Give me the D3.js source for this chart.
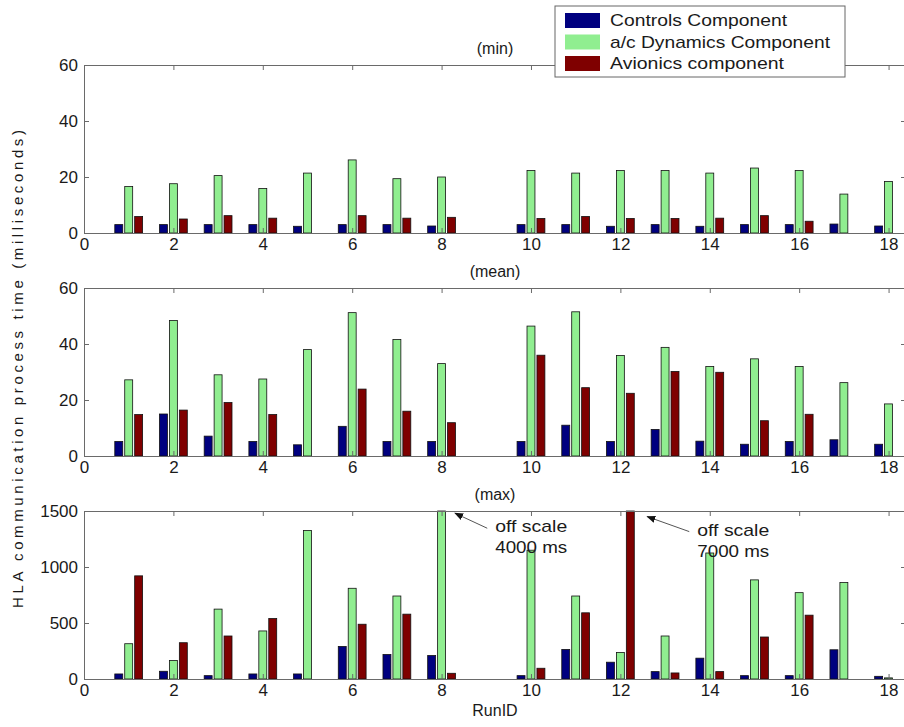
<!DOCTYPE html>
<html>
<head>
<meta charset="utf-8">
<script src="https://cdn.jsdelivr.net/npm/d3@7"></script>
<style>
  body { margin: 0; background: #fff; }
  svg text { font-family: "Liberation Sans", Arial, sans-serif; fill: #1a1a1a; }
  .axis path, .axis line { stroke: #6a6a6a; }
  .axis text { font-size: 17px; fill: #1a1a1a; }
  .bar { stroke: #111; stroke-width: 0.8; }
</style>
</head>
<body>
<svg id="chart"></svg>
<script>

// runs on the x axis (run 9 has no data)
const runIds = [1, 2, 3, 4, 5, 6, 7, 8, 9, 10, 11, 12, 13, 14, 15, 16, 17, 18];
const seriesNames = ['Controls Component', 'a/c Dynamics Component', 'Avionics component'];
const seriesColors = ['#00007f', '#90ee90', '#7f0000'];

const xTicks = [0, 2, 4, 6, 8, 10, 12, 14, 16, 18];
const msTicks = [0, 20, 40, 60];
const maxTicks = [0, 500, 1000, 1500];

// (min)
const minControls = [3, 3, 3, 3, 2.4, 3, 3, 2.5, null, 3, 3, 2.4, 3, 2.4, 3, 3, 3.2, 2.5];
const minDynamics = [16.6, 17.6, 20.5, 15.9, 21.4, 26.1, 19.4, 20, null, 22.3, 21.4, 22.3, 22.3, 21.4, 23.2, 22.3, 13.9, 18.4];
const minAvionics = [5.9, 5, 6.2, 5.3, 0, 6.2, 5.3, 5.6, null, 5.2, 5.9, 5.2, 5.2, 5.3, 6.2, 4.2, 0, 0];

// (mean)
const meanControls = [5.2, 15, 7.1, 5.2, 4, 10.6, 5.2, 5.2, null, 5.2, 11, 5.2, 9.5, 5.3, 4.2, 5.2, 5.8, 4.2];
const meanDynamics = [27.2, 48.4, 29, 27.5, 38, 51.2, 41.6, 33, null, 46.4, 51.5, 35.9, 38.8, 32, 34.7, 32, 26.2, 18.6];
const meanAvionics = [14.8, 16.4, 19.1, 14.8, 0, 23.9, 16, 11.9, null, 36, 24.4, 22.4, 30.2, 29.9, 12.6, 14.9, 0, 0];

// (max) -- run 8 dynamics and run 12 avionics are off scale
const maxControls = [45, 69, 30, 45, 45, 291, 219, 210, null, 30, 264, 150, 66, 186, 30, 30, 261, 24];
const maxDynamics = [315, 165, 624, 429, 1326, 810, 741, 4000, null, 1150, 741, 237, 384, 1125, 885, 771, 861, 10];
const maxAvionics = [921, 324, 384, 540, 0, 489, 579, 51, null, 96, 591, 7000, 54, 66, 375, 570, 0, 0];

// off scale notes: arrow tip and text start in data units, two text lines
const notesTipRun = [8.3, 12.6];
const notesTipValue = [1480, 1450];
const notesTextRun = [9.2, 13.72];
const notesLabel = [['off scale', '4000 ms'], ['off scale', '7000 ms']];

class BarPanel {

  constructor(_config, _series) {
    this.config = {
      parentElement: _config.parentElement,
      top: _config.top,
      left: 84,
      width: 822,
      height: 168,
      title: _config.title,
      yDomain: _config.yDomain,
      yTicks: _config.yTicks
    }
    this.series = _series;
    this.initVis();
  }

  initVis() {
    let vis = this;

    vis.xScale = d3.scaleLinear()
        .domain([0, 18.39])
        .range([0, vis.config.width]);

    // clamp so the off-scale bars stop at the top of the box
    vis.yScale = d3.scaleLinear()
        .domain(vis.config.yDomain)
        .range([vis.config.height, 0])
        .clamp(true);

    // offsets of the three bars inside a run group (in run units)
    vis.groupScale = d3.scaleBand()
        .domain(seriesNames)
        .range([-1 / 3, 1 / 3])
        .paddingInner(0.2)
        .paddingOuter(0.1);

    vis.chart = vis.config.parentElement.append('g')
        .attr('transform', `translate(${vis.config.left},${vis.config.top})`);

    vis.chart.append('text')
      .attr('x', vis.config.width / 2)
      .attr('y', -11)
      .style('text-anchor', 'middle')
      .style('font-size', '16px')
      .text(vis.config.title);

    vis.updateVis();
  }

  updateVis() {
    let vis = this;

    let rows = [];
    vis.series.forEach((values, si) => {
      values.forEach((v, i) => {
        if (v != null && v > 0) rows.push({ run: runIds[i], value: v, name: seriesNames[si], color: seriesColors[si] });
      });
    });

    let barW = vis.xScale(vis.groupScale.bandwidth()) - vis.xScale(0);

    vis.chart.selectAll('.bar')
      .data(rows)
      .join('rect')
        .attr('class', 'bar')
        .attr('x', d => vis.xScale(d.run + vis.groupScale(d.name)))
        .attr('y', d => vis.yScale(d.value))
        .attr('width', barW)
        .attr('height', d => vis.config.height - vis.yScale(d.value))
        .attr('fill', d => d.color);

    vis.renderVis();
  }

  renderVis() {
    let vis = this;
    let w = vis.config.width, h = vis.config.height;

    // MATLAB style box: ticks point inwards on all four sides
    vis.chart.append('g')
        .attr('class', 'axis x-axis')
        .attr('transform', `translate(0,${h})`)
        .call(d3.axisBottom(vis.xScale).tickValues(xTicks).tickSize(-5).tickSizeOuter(0).tickPadding(5));

    vis.chart.append('g')
        .attr('class', 'axis')
        .call(d3.axisTop(vis.xScale).tickValues(xTicks).tickSize(-5).tickSizeOuter(0).tickFormat(''));

    vis.chart.append('g')
        .attr('class', 'axis y-axis')
        .call(d3.axisLeft(vis.yScale).tickValues(vis.config.yTicks).tickSize(-5).tickSizeOuter(0)
          .tickPadding(6).tickFormat(d3.format('d')));

    vis.chart.append('g')
        .attr('class', 'axis')
        .attr('transform', `translate(${w},0)`)
        .call(d3.axisRight(vis.yScale).tickValues(vis.config.yTicks).tickSize(-5).tickSizeOuter(0).tickFormat(''));
  }
}

const svg = d3.select('#chart')
    .attr('width', 904)
    .attr('height', 727);

svg.append('defs').append('marker')
    .attr('id', 'head')
    .attr('viewBox', '0 0 10 10')
    .attr('refX', 9).attr('refY', 5)
    .attr('markerWidth', 9).attr('markerHeight', 9)
    .attr('orient', 'auto')
  .append('path')
    .attr('d', 'M0,1 L10,5 L0,9 Z')
    .attr('fill', '#111');

const minPanel = new BarPanel({ parentElement: svg, top: 65, title: '(min)', yDomain: [0, 60], yTicks: msTicks },
  [minControls, minDynamics, minAvionics]);
const meanPanel = new BarPanel({ parentElement: svg, top: 288, title: '(mean)', yDomain: [0, 60], yTicks: msTicks },
  [meanControls, meanDynamics, meanAvionics]);
const maxPanel = new BarPanel({ parentElement: svg, top: 511, title: '(max)', yDomain: [0, 1500], yTicks: maxTicks },
  [maxControls, maxDynamics, maxAvionics]);

// off scale notes in the max panel
notesTipRun.forEach((r, i) => {
  let tx = maxPanel.xScale(r), ty = maxPanel.yScale(notesTipValue[i]);
  let textX = maxPanel.xScale(notesTextRun[i]);
  let g = maxPanel.chart.append('g');
  g.append('line')
    .attr('x1', textX - 8).attr('y1', ty + 15)
    .attr('x2', tx).attr('y2', ty)
    .attr('stroke', '#555')
    .attr('stroke-width', 1)
    .attr('marker-end', 'url(#head)');
  notesLabel[i].forEach((t, k) => {
    g.append('text')
      .attr('x', textX)
      .attr('y', ty + 19 + k * 21)
      .style('font-size', '17px')
      .attr('textLength', 72)
      .attr('lengthAdjust', 'spacingAndGlyphs')
      .text(t);
  });
});

// x label
svg.append('text')
  .attr('x', 495)
  .attr('y', 716)
  .style('text-anchor', 'middle')
  .style('font-size', '16px')
  .text('RunID');

// shared y label
svg.append('text')
  .attr('transform', 'translate(23,369) rotate(-90)')
  .style('text-anchor', 'middle')
  .style('font-size', '15px')
  .attr('textLength', 478)
  .attr('lengthAdjust', 'spacing')
  .text('HLA communication process time (milliseconds)');

// legend box over the top panel
const legend = svg.append('g');
legend.append('rect')
  .attr('x', 555).attr('y', 6)
  .attr('width', 290).attr('height', 71)
  .attr('fill', '#fff')
  .attr('stroke', '#666');

const legendWidths = [177, 220, 174];
seriesNames.forEach((name, i) => {
  legend.append('rect')
    .attr('x', 565).attr('y', 13 + i * 21.5)
    .attr('width', 35).attr('height', 15)
    .attr('fill', seriesColors[i]);
  legend.append('text')
    .attr('x', 610).attr('y', 26 + i * 21.5)
    .style('font-size', '17px')
    .attr('textLength', legendWidths[i])
    .attr('lengthAdjust', 'spacingAndGlyphs')
    .text(name);
});

</script>
</body>
</html>
